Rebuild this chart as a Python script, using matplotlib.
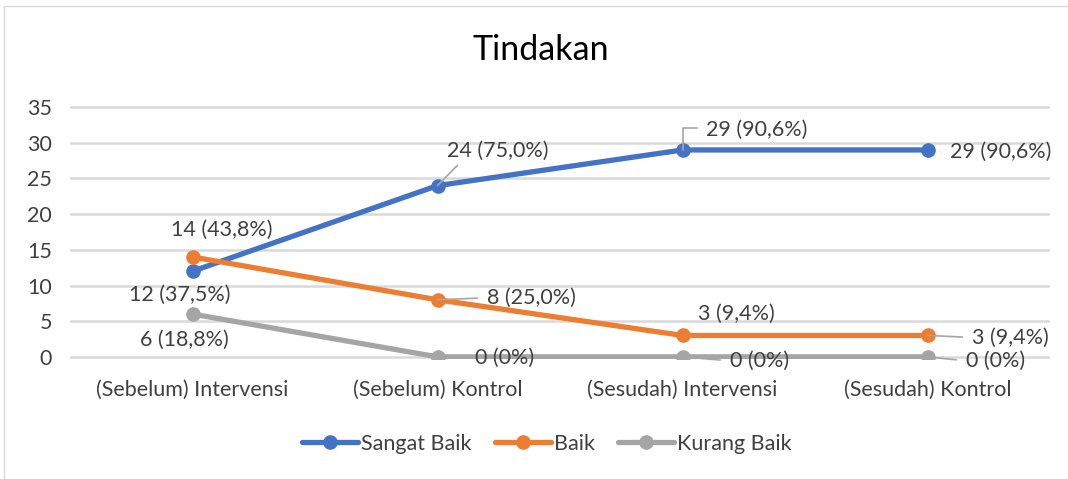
import matplotlib.pyplot as plt
from matplotlib.patches import Rectangle

categories = ['(Sebelum) Intervensi', '(Sebelum) Kontrol', '(Sesudah) Intervensi', '(Sesudah) Kontrol']
sangat_baik = [12, 24, 29, 29]
baik = [14, 8, 3, 3]
kurang_baik = [6, 0, 0, 0]
pct_sangat = ['37,5%', '75,0%', '90,6%', '90,6%']
pct_baik = ['43,8%', '25,0%', '9,4%', '9,4%']
pct_kurang = ['18,8%', '0%', '0%', '0%']

plt.rcParams['font.family'] = ['Lato', 'DejaVu Sans']
fs = 15.5

fig = plt.figure(figsize=(10.68, 4.79), dpi=100)
fig.patches.append(Rectangle((0.004, 0.0), 1.2, 1 - 6 / 479, transform=fig.transFigure,
                             fill=False, edgecolor='#D9D9D9', lw=1))
ax = fig.add_axes([70 / 1068, 1 - 359 / 479, 980 / 1068, 254 / 479])

x = range(len(categories))
series = [
    ('Sangat Baik', sangat_baik, pct_sangat, '#4472C4'),
    ('Baik', baik, pct_baik, '#ED7D31'),
    ('Kurang Baik', kurang_baik, pct_kurang, '#A5A5A5'),
]
for name, vals, pct, col in series:
    ax.plot(x, vals, color=col, lw=3.8, marker='o', ms=9.5, label=name,
            solid_capstyle='round', zorder=3)

# label offsets in pixels (dx, dy) and leader style
offs = {
    'Sangat Baik': [(-13, -24, None), (60, 35, 'line'), (74, 20, 'elbow'), (73, -2, None)],
    'Baik': [(29, 27, None), (94, 2, 'side'), (54, 22, None), (83, -2, 'side')],
    'Kurang Baik': [(-8, -26, None), (67, -1, None), (77, -4, 'side'), (68, -4, 'side')],
}
lead = '#A6A6A6'
for name, vals, pct, col in series:
    for i, v in enumerate(vals):
        dx, dy, kind = offs[name][i]
        ap = None
        if kind == 'line':
            ap = dict(arrowstyle='-', color=lead, lw=1.2, relpos=(0.15, 0.0), shrinkA=2, shrinkB=0)
        elif kind == 'elbow':
            ap = dict(arrowstyle='-', color=lead, lw=1.2, relpos=(0.0, 0.6), shrinkA=4, shrinkB=0,
                      connectionstyle='angle,angleA=0,angleB=90,rad=0')
        elif kind == 'side':
            ap = dict(arrowstyle='-', color=lead, lw=1.2, relpos=(0.0, 0.5), shrinkA=5, shrinkB=0)
        ax.annotate(f'{v} ({pct[i]})', (i, v), xytext=(dx, dy), textcoords='offset pixels',
                    ha='center', va='center', fontsize=fs, color='#404040',
                    arrowprops=ap, zorder=4)

ax.set_xlim(-0.5, 3.5)
ax.set_yticks(range(0, 36, 5))
ax.set_xticks(list(x))
ax.set_xticklabels(categories)
ax.grid(axis='y', color='#D9D9D9', lw=1.8, zorder=0)
ax.set_axisbelow(True)
for s in ax.spines.values():
    s.set_visible(False)
ax.tick_params(length=0, labelsize=fs, colors='#404040')
ax.tick_params(axis='x', pad=15)
ax.tick_params(axis='y', pad=13)
ax.set_ylim(-0.3, 35.3)

fig.text(541 / 1068, 1 - 50 / 479, 'Tindakan', ha='center', va='center', fontsize=24.5, color='#000000')
fig.legend(loc='center', bbox_to_anchor=(547 / 1068, 1 - 444 / 479), ncol=3, frameon=False,
           fontsize=fs, handlelength=2.6, handletextpad=0.12, columnspacing=1.1,
           labelcolor='#404040')

fig.savefig('out.png', dpi=100)
